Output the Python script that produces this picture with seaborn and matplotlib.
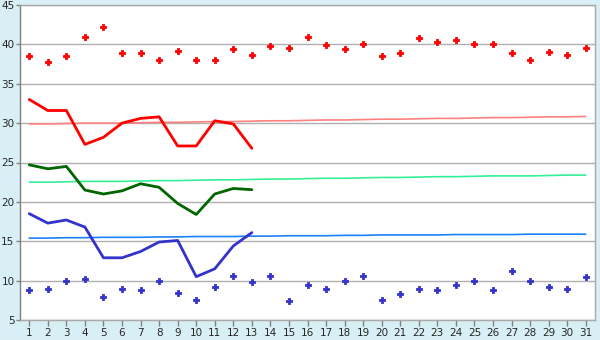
#!/usr/bin/env python

import pandas as pd
import numpy as np
import matplotlib
matplotlib.use('Agg')
import matplotlib.pyplot as plt
import seaborn as sns

days = list(range(1, 32))

# daily maximum / minimum (points)
max_pts = [38.5, 37.7, 38.5, 41.0, 42.2, 38.9, 38.9, 38.0, 39.1, 38.0,
           38.0, 39.4, 38.7, 39.8, 39.5, 41.0, 39.9, 39.4, 40.0, 38.5,
           38.9, 40.8, 40.3, 40.6, 40.1, 40.0, 38.9, 38.0, 39.0, 38.7, 39.6]
min_pts = [8.8, 9.0, 10.0, 10.2, 7.9, 8.9, 8.8, 10.0, 8.4, 7.6,
           9.15, 10.55, 9.8, 10.55, 7.4, 9.4, 8.9, 9.9, 10.55, 7.6,
           8.26, 9.0, 8.8, 9.5, 9.9, 8.8, 11.2, 10.0, 9.15, 9.0, 10.4]

# measured lines, days 1-13
line_days = days[:13]
red_line = [33.0, 31.6, 31.6, 27.3, 28.2, 30.0, 30.6, 30.8, 27.1, 27.1, 30.3, 29.9, 26.8]
green_line = [24.7, 24.2, 24.5, 21.5, 21.0, 21.4, 22.3, 21.85, 19.8, 18.4, 21.0, 21.7, 21.55]
blue_line = [18.5, 17.3, 17.7, 16.8, 12.9, 12.9, 13.7, 14.9, 15.1, 10.5, 11.5, 14.4, 16.1]

# normals (thin lines)
red_norm = [29.9, 29.9, 29.95, 30.0, 30.0, 30.0, 30.05, 30.1, 30.1, 30.15,
            30.2, 30.2, 30.25, 30.3, 30.3, 30.35, 30.4, 30.4, 30.45, 30.5,
            30.5, 30.55, 30.6, 30.6, 30.65, 30.7, 30.7, 30.75, 30.8, 30.8, 30.85]
green_norm = [22.5, 22.5, 22.55, 22.6, 22.6, 22.6, 22.65, 22.7, 22.7, 22.75,
              22.8, 22.8, 22.85, 22.9, 22.9, 22.95, 23.0, 23.0, 23.05, 23.1,
              23.1, 23.15, 23.2, 23.2, 23.25, 23.3, 23.3, 23.3, 23.35, 23.4, 23.4]
blue_norm = [15.4, 15.4, 15.45, 15.45, 15.5, 15.5, 15.5, 15.55, 15.55, 15.6,
             15.6, 15.6, 15.65, 15.65, 15.7, 15.7, 15.7, 15.75, 15.75, 15.8,
             15.8, 15.8, 15.8, 15.85, 15.85, 15.85, 15.85, 15.9, 15.9, 15.9, 15.9]

sns.set_style('white')
plt.rcParams['font.family'] = ['DejaVu Sans']

fig = plt.figure(figsize=(6, 3.4), dpi=100)
fig.patch.set_facecolor('#d9eff6')
ax = fig.add_axes([20 / 600, 1 - 320 / 340, 575 / 600, 315 / 340])
ax.set_facecolor('white')

ax.set_yticks(range(5, 46, 5))
ax.grid(axis='y', color='#b0b0b0', lw=1)
ax.set_axisbelow(True)

sns.lineplot(x=days, y=red_norm, color='#ff8080', lw=1.2, ax=ax)
sns.lineplot(x=days, y=green_norm, color='#33f099', lw=1.2, ax=ax)
sns.lineplot(x=days, y=blue_norm, color='#1a80ff', lw=1.2, ax=ax)

sns.lineplot(x=line_days, y=red_line, color='#ff0000', lw=2, ax=ax)
sns.lineplot(x=line_days, y=green_line, color='#006600', lw=2, ax=ax)
sns.lineplot(x=line_days, y=blue_line, color='#3333cc', lw=2, ax=ax)

sns.scatterplot(x=days, y=max_pts, marker='P', s=20, color='#ff0000',
                edgecolor='#ff0000', linewidth=0.6, ax=ax)
sns.scatterplot(x=days, y=min_pts, marker='P', s=20, color='#3333cc',
                edgecolor='#3333cc', linewidth=0.6, ax=ax)

ax.set_xlim(0.5, 31.5)
ax.set_ylim(5, 45)
ax.set_xticks(days)
ax.tick_params(axis='x', labelsize=7.5, length=4, width=1, color='#808080', pad=2, direction='out')
ax.tick_params(axis='y', labelsize=7.5, length=3, width=1, color='#808080', pad=1, direction='out')
ax.tick_params(axis='both', bottom=True, left=True)
for s in ax.spines.values():
    s.set_color('#a8a8a8')
    s.set_linewidth(1)
ax.spines['left'].set_color('#808080')

fig.savefig('out.png', dpi=100, facecolor=fig.get_facecolor())
